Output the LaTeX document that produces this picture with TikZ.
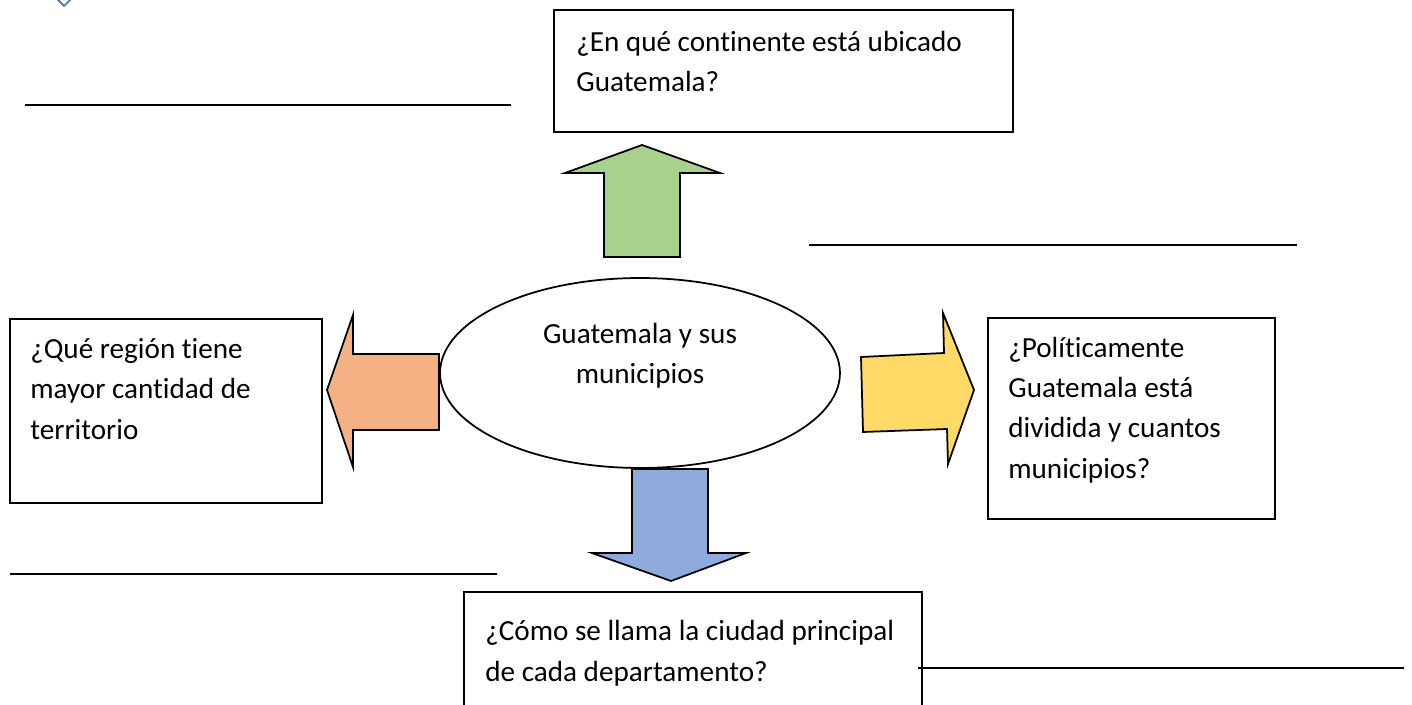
\documentclass[tikz,border=0pt]{standalone}
\usepackage{fontspec}
\setmainfont[Ligatures={NoCommon}]{Carlito}
\usepackage{xcolor}
\usetikzlibrary{shapes.geometric}
\definecolor{verde}{HTML}{A9D18E}
\definecolor{naranja}{HTML}{F4B183}
\definecolor{amarillo}{HTML}{FFD966}
\definecolor{azulclaro}{HTML}{8FAADC}
\definecolor{azul}{HTML}{4472C4}

\begin{document}
\begin{tikzpicture}[x=0.02cm,y=-0.02cm,line join=miter,
        caja/.style={line width=1pt},
        flecha/.style={draw=black,line width=1pt},
        texto/.style={anchor=base west,inner sep=0pt,align=left,font=\fontsize{16.6}{22.8}\selectfont},
        raya/.style={line width=0.8pt}]
        % Marco
        \useasboundingbox (0,0) rectangle (1412,705);
        \clip (0,0) rectangle (1412,705);
        % Rombo azul
        \draw[azul,line width=1pt] (57,-1) -- (64,6) -- (71,-1) -- (64,-8) -- cycle;
        % Cuadros
        \draw[caja] (554,10) rectangle (1013,132);
        \draw[caja] (10,319) rectangle (322,503);
        \draw[caja] (988,318) rectangle (1275,519);
        \draw[caja] (464,592) rectangle (922,720);
        % Preguntas (la base es la de la ultima linea)
        \node[texto] (continente) at (576,92) {¿En qué continente está ubicado\\Guatemala?};
        \node[texto] (region) at (30,439) {¿Qué región tiene\\mayor cantidad de\\territorio};
        \node[texto] (politica) at (1008,478) {¿Políticamente\\Guatemala está\\dividida y cuantos\\municipios?};
        \node[texto] (ciudad) at (485,681) {¿Cómo se llama la ciudad principal\\de cada departamento?};
        % Elipse central
        \node[draw,ellipse,line width=1pt,minimum width=8cm,minimum height=3.8cm] (centro) at (640,373) {};
        \node[texto,anchor=base,align=center] (tema) at (640,384) {Guatemala y sus\\municipios};
        % Flechas
        \draw[flecha,fill=verde] (604,257) -- (604,173) -- (565,173) -- (642,145) -- (720,173) -- (680,173) -- (680,257) -- cycle;
        \draw[flecha,fill=naranja] (439,354) -- (353,354) -- (353,315) -- (327,390) -- (353,467) -- (353,430) -- (439,430) -- cycle;
        \draw[flecha,fill=amarillo] (861,357) -- (944,353) -- (943,313) -- (974,390) -- (948,464) -- (947,429) -- (863,432) -- cycle;
        \draw[flecha,fill=azulclaro] (632,469) -- (708,469) -- (708,553) -- (746,553) -- (671,581) -- (592,553) -- (632,553) -- cycle;
        % Rayas para responder
        \draw[raya] (25,105) -- (511,105);
        \draw[raya] (809,245) -- (1297,245);
        \draw[raya] (10,574) -- (497,574);
        \draw[raya] (918,668) -- (1404,668);
\end{tikzpicture}
\end{document}
